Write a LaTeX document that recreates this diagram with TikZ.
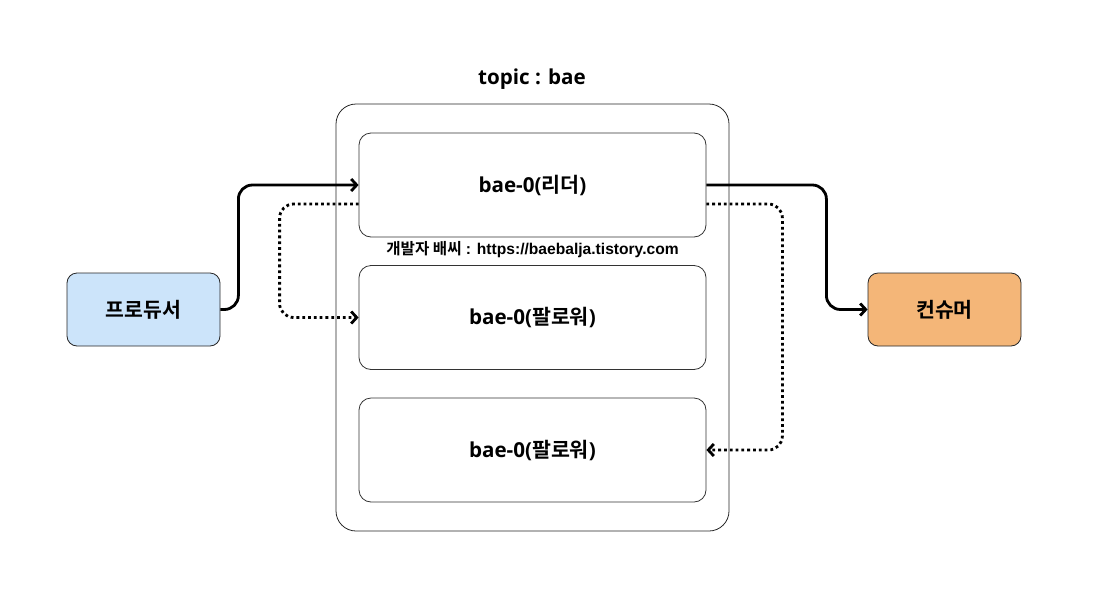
\documentclass[tikz,border=0pt]{standalone}
\usepackage{fontspec}
\setmainfont{Open Sans}
\newfontfamily\krfont{Noto Sans CJK KR}[BoldFont={* Bold}]
\newfontfamily\wmfont{Liberation Sans}
\usetikzlibrary{arrows.meta}
\usepackage{xcolor}
\definecolor{prodblue}{RGB}{204,228,250}
\definecolor{consorange}{RGB}{244,182,120}

\begin{document}
\begin{tikzpicture}[x=1pt, y=-1pt,
  appbox/.style={draw=black!85, line width=0.8pt, rounded corners=10pt, minimum width=153pt, minimum height=73pt,
    font=\krfont\bfseries\fontsize{20.5}{24}\selectfont},
  partbox/.style={draw=black!80, line width=0.8pt, rounded corners=12pt, minimum width=347pt, minimum height=104pt,
    font=\bfseries\fontsize{20.6}{24}\selectfont},
  link/.style={line width=2.8pt, rounded corners=14pt, -{Straight Barb[length=5.5pt,width=12pt]}},
  copylink/.style={link, dash pattern=on 2.8pt off 3pt}]
\useasboundingbox (0,0) rectangle (1114,592);
% topic and its partitions
\node[draw=black!85, line width=0.8pt, rounded corners=20pt, minimum width=393pt, minimum height=427pt] (topic) at (532.5,317.5) {};
\node[font=\bfseries\fontsize{20.6}{24}\selectfont] (topiclabel) at (532,79) {topic : bae};
\node[partbox] (leader) at (532.5,185) {bae-0({\krfont 리더})};
\node[partbox] (followerA) at (532.5,317.5) {bae-0({\krfont 팔로워})};
\node[partbox] (followerB) at (532.5,450) {bae-0({\krfont 팔로워})};
\node[font=\wmfont\bfseries\fontsize{15.6}{18}\selectfont] (mark) at (532.5,250) {{\krfont 개발자 배씨} : https://baebalja.tistory.com};
% producer / consumer
\node[appbox, fill=prodblue] (producer) at (143.5,309.5) {프로듀서};
\node[appbox, fill=consorange] (consumer) at (944.5,309.5) {컨슈머};
% data flow
\draw[link] (producer.east) -- ++(18,0) |- (leader.west);
\draw[link] (leader.east) -- ++(120,0) |- (consumer.west);
% replication
\draw[copylink] ([yshift=-19pt]leader.west) -- ++(-79,0) |- (followerA.west);
\draw[copylink] ([yshift=-19pt]leader.east) -- ++(76,0) |- (followerB.east);
\end{tikzpicture}
\end{document}
